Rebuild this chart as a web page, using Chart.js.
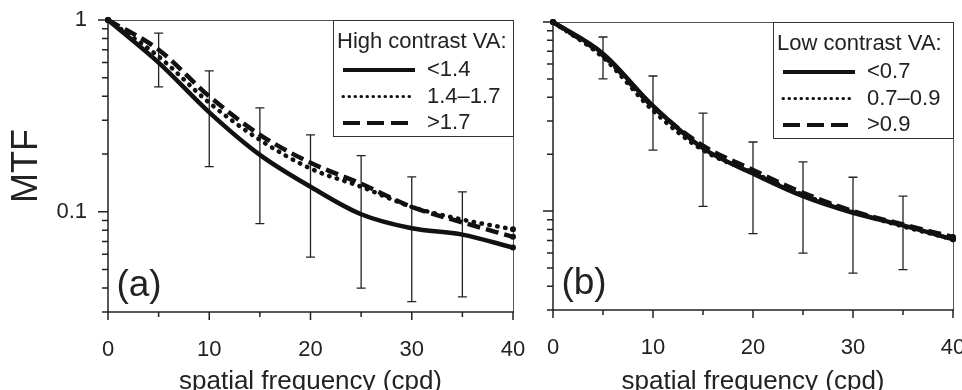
<!DOCTYPE html>
<html>
<head>
<meta charset="utf-8">
<script src="https://cdn.jsdelivr.net/npm/chart.js@4.4.0/dist/chart.umd.min.js"></script>
<style>
  html, body { margin: 0; padding: 0; background: #fff; overflow: hidden; }
  #wrapA { position: absolute; left: 0; top: 0; width: 530px; height: 390px; }
  #wrapB { position: absolute; left: 530px; top: 0; width: 432px; height: 390px; }
</style>
</head>
<body>
<div id="wrapA"><canvas id="chartA" width="530" height="390" style="width:530px;height:390px"></canvas></div>
<div id="wrapB"><canvas id="chartB" width="432" height="390" style="width:432px;height:390px"></canvas></div>
<script>
// spatial frequency (cpd)
const freq = [0, 5, 10, 15, 20, 25, 30, 35, 40];

// panel (a): high contrast VA groups
const mtfHighLow = [1, 0.60, 0.33, 0.198, 0.135, 0.097, 0.082, 0.076, 0.065];
const mtfHighMid = [1, 0.645, 0.37, 0.237, 0.168, 0.135, 0.106, 0.091, 0.081];
const mtfHighTop = [1, 0.70, 0.40, 0.252, 0.18, 0.14, 0.106, 0.088, 0.074];

// panel (b): low contrast VA groups
const mtfLowLow = [1, 0.68, 0.36, 0.215, 0.158, 0.12, 0.098, 0.084, 0.071];
const mtfLowMid = [1, 0.65, 0.34, 0.21, 0.16, 0.122, 0.099, 0.083, 0.071];
const mtfLowTop = [1, 0.665, 0.355, 0.222, 0.165, 0.125, 0.1, 0.085, 0.073];

// error bars
const errFreq = [5, 10, 15, 20, 25, 30, 35];
const errLowA = [0.448, 0.172, 0.0866, 0.058, 0.040, 0.034, 0.036];
const errHighA = [0.855, 0.543, 0.348, 0.252, 0.196, 0.152, 0.127];
const errLowB = [0.50, 0.21, 0.106, 0.076, 0.060, 0.047, 0.049];
const errHighB = [0.833, 0.518, 0.33, 0.232, 0.182, 0.151, 0.12];

// axis ticks
const yTickVals = [1, 0.9, 0.8, 0.7, 0.6, 0.5, 0.4, 0.3, 0.2, 0.1, 0.09, 0.08, 0.07, 0.06, 0.05, 0.04, 0.03];
const yMajor = [1, 0.1];
const xTickVals = [0, 5, 10, 15, 20, 25, 30, 35, 40];
const xMajor = [0, 10, 20, 30, 40];

const FONT = "'Liberation Sans', Arial, Helvetica, sans-serif";
const INK = '#111';

const styles = [
  { borderDash: [], borderCapStyle: 'butt', legendDash: [] },
  { borderDash: [0.5, 7.5], borderCapStyle: 'round', legendDash: [0.5, 5.5] },
  { borderDash: [13, 6], borderCapStyle: 'butt', legendDash: [17, 7] },
];

function makeDataset(label, values, i) {
  return {
    label: label,
    data: freq.map((f, k) => ({ x: f, y: values[k] })),
    borderColor: INK,
    backgroundColor: INK,
    borderWidth: 4.5,
    borderDash: styles[i].borderDash,
    borderCapStyle: styles[i].borderCapStyle,
    legendDash: styles[i].legendDash,
    cubicInterpolationMode: 'monotone',
    pointRadius: (c) => (c.dataIndex === 0 || c.dataIndex === freq.length - 1) ? 3 : 0,
    pointBorderWidth: 0,
    fill: false,
    clip: false,
  };
}

const framePlugin = {
  id: 'frame',
  beforeDatasetsDraw(chart, args, opts) {
    const { ctx, chartArea: a, scales: { x, y } } = chart;
    ctx.save();
    ctx.strokeStyle = '#555';
    ctx.lineWidth = 1;
    ctx.beginPath();
    ctx.moveTo(a.left, a.top + 0.5);
    ctx.lineTo(a.right + 0.5, a.top + 0.5);
    ctx.lineTo(a.right + 0.5, a.bottom);
    ctx.stroke();

    ctx.strokeStyle = '#222';
    ctx.lineWidth = 1.5;
    ctx.beginPath();
    ctx.moveTo(a.left, a.top);
    ctx.lineTo(a.left, a.bottom);
    ctx.lineTo(a.right + 1, a.bottom);
    yTickVals.forEach(v => {
      const py = y.getPixelForValue(v);
      const len = yMajor.includes(v) ? 10 : 6;
      ctx.moveTo(a.left - len, py);
      ctx.lineTo(a.left, py);
    });
    xTickVals.forEach(v => {
      const px = x.getPixelForValue(v);
      const len = xMajor.includes(v) ? 8 : 5;
      ctx.moveTo(px, a.bottom);
      ctx.lineTo(px, a.bottom + len);
    });
    ctx.stroke();

    // error bars
    const e = opts;
    ctx.strokeStyle = '#222';
    ctx.lineWidth = 1.3;
    ctx.beginPath();
    errFreq.forEach((f, i) => {
      const px = x.getPixelForValue(f);
      const lo = y.getPixelForValue(e.low[i]);
      const hi = y.getPixelForValue(e.high[i]);
      ctx.moveTo(px, lo); ctx.lineTo(px, hi);
      ctx.moveTo(px - 4.5, lo); ctx.lineTo(px + 4.5, lo);
      ctx.moveTo(px - 4.5, hi); ctx.lineTo(px + 4.5, hi);
    });
    ctx.stroke();

    // panel tag
    ctx.fillStyle = '#222';
    ctx.font = '37px ' + FONT;
    ctx.textAlign = 'center';
    ctx.textBaseline = 'middle';
    ctx.fillText(e.tag, a.left + 31, a.bottom - 26);
    ctx.restore();
  },
  afterDatasetsDraw(chart, args, opts) {
    const { ctx, chartArea: a } = chart;
    const w = 180, h = 116;
    const bx = a.right - w, by = a.top;
    ctx.save();
    ctx.fillStyle = '#fff';
    ctx.fillRect(bx, by, w, h);
    ctx.strokeStyle = '#333';
    ctx.lineWidth = 1;
    ctx.strokeRect(bx + 0.5, by + 0.5, w, h);
    ctx.fillStyle = '#222';
    ctx.font = '22px ' + FONT;
    ctx.textAlign = 'left';
    ctx.textBaseline = 'middle';
    ctx.fillText(opts.title, bx + 4, by + 22);
    chart.data.datasets.forEach((ds, i) => {
      const ry = by + 50 + i * 26.5;
      ctx.strokeStyle = INK;
      ctx.lineWidth = i === 1 ? 3 : 4;
      ctx.lineCap = ds.borderCapStyle;
      ctx.setLineDash(ds.legendDash);
      ctx.beginPath();
      ctx.moveTo(bx + 10, ry);
      ctx.lineTo(bx + 82, ry);
      ctx.stroke();
      ctx.setLineDash([]);
      ctx.fillText(ds.label, bx + 94, ry);
    });
    ctx.restore();
  }
};

function makeChart(id, sets, err, tag, title, yWidth, showYLabels, yTitle) {
  return new Chart(document.getElementById(id), {
    type: 'line',
    data: { datasets: sets },
    plugins: [framePlugin],
    options: {
      responsive: false,
      animation: false,
      events: [],
      layout: { padding: { left: 0, right: id === 'chartA' ? 17 : 9, top: id === 'chartA' ? 20 : 22, bottom: 0 } },
      plugins: {
        legend: { display: false },
        tooltip: { enabled: false },
        frame: { low: err.low, high: err.high, tag: tag, title: title },
      },
      scales: {
        x: {
          type: 'linear',
          min: 0,
          max: 40,
          grid: { display: false, drawTicks: false },
          border: { display: false },
          ticks: { stepSize: 10, color: '#222', font: { family: FONT, size: 22 }, padding: 25, maxRotation: 0 },
          title: {
            display: true,
            text: 'spatial frequency (cpd)',
            color: '#222',
            font: { family: FONT, size: 26, lineHeight: 0.65 },
            padding: 0,
          },
          afterFit(s) {
            s.height = id === 'chartA' ? 78 : 80;
            s.paddingLeft = 0;
            s.paddingRight = 0;
          },
        },
        y: {
          type: 'logarithmic',
          min: 0.03,
          max: 1,
          grid: { display: false, drawTicks: false },
          border: { display: false },
          afterBuildTicks(s) {
            s.ticks = yTickVals.map(v => ({ value: v }));
          },
          ticks: {
            autoSkip: false,
            color: '#222',
            font: { family: FONT, size: 22 },
            padding: 21,
            callback: (v) => showYLabels && yMajor.includes(v) ? String(v) : '',
          },
          title: {
            display: !!yTitle,
            text: yTitle || '',
            color: '#222',
            font: { family: FONT, size: 36, lineHeight: 1.2 },
            padding: { top: 5, bottom: 0 },
          },
          afterFit(s) {
            s.width = yWidth;
            s.paddingTop = 0;
            s.paddingBottom = 0;
          },
        },
      },
    },
  });
}

makeChart('chartA', [
  makeDataset('<1.4', mtfHighLow, 0),
  makeDataset('1.4\u20131.7', mtfHighMid, 1),
  makeDataset('>1.7', mtfHighTop, 2),
], { low: errLowA, high: errHighA }, '(a)', 'High contrast VA:', 108, true, 'MTF');

makeChart('chartB', [
  makeDataset('<0.7', mtfLowLow, 0),
  makeDataset('0.7\u20130.9', mtfLowMid, 1),
  makeDataset('>0.9', mtfLowTop, 2),
], { low: errLowB, high: errHighB }, '(b)', 'Low contrast VA:', 23, false, null);
</script>
</body>
</html>
